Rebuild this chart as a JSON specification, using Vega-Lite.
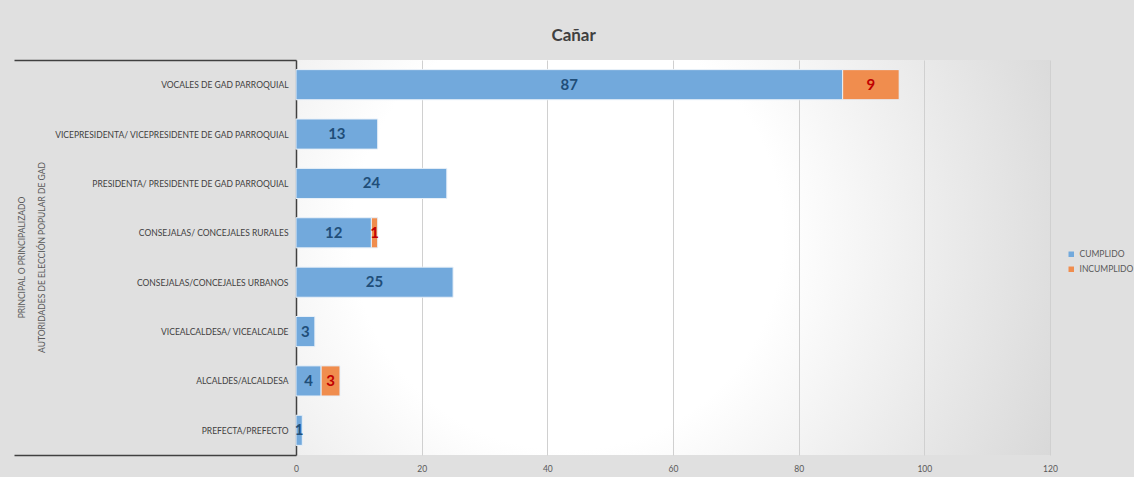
{
  "$schema": "https://vega.github.io/schema/vega-lite/v6.json",
  "width": 754,
  "height": 395,
  "padding": {"top": 27, "left": 13, "right": 0, "bottom": 6},
  "background": "#e0e0e0",
  "config": {
    "font": "Lato",
    "view": {"stroke": null, "fill": {"gradient": "radial", "x1": 0.36, "y1": 0.47, "r1": 0, "x2": 0.36, "y2": 0.47, "r2": 0.95, "stops": [{"offset": 0, "color": "#ffffff"}, {"offset": 0.3, "color": "#ffffff"}, {"offset": 1, "color": "#c2c2c2"}]}}
  },
  "title": {"text": "Cañar", "fontSize": 17, "fontWeight": "bold", "color": "#404040", "anchor": "middle", "frame": "bounds", "offset": 11, "font": "Lato"},
  "data": {
    "values": [
      {"cargo": "VOCALES DE GAD PARROQUIAL", "estado": "CUMPLIDO", "valor": 87},
      {"cargo": "VOCALES DE GAD PARROQUIAL", "estado": "INCUMPLIDO", "valor": 9},
      {"cargo": "VICEPRESIDENTA/ VICEPRESIDENTE DE GAD PARROQUIAL", "estado": "CUMPLIDO", "valor": 13},
      {"cargo": "PRESIDENTA/ PRESIDENTE DE GAD PARROQUIAL", "estado": "CUMPLIDO", "valor": 24},
      {"cargo": "CONSEJALAS/ CONCEJALES RURALES", "estado": "CUMPLIDO", "valor": 12},
      {"cargo": "CONSEJALAS/ CONCEJALES RURALES", "estado": "INCUMPLIDO", "valor": 1},
      {"cargo": "CONSEJALAS/CONCEJALES URBANOS", "estado": "CUMPLIDO", "valor": 25},
      {"cargo": "VICEALCALDESA/ VICEALCALDE", "estado": "CUMPLIDO", "valor": 3},
      {"cargo": "ALCALDES/ALCALDESA", "estado": "CUMPLIDO", "valor": 4},
      {"cargo": "ALCALDES/ALCALDESA", "estado": "INCUMPLIDO", "valor": 3},
      {"cargo": "PREFECTA/PREFECTO", "estado": "CUMPLIDO", "valor": 1}
    ]
  },
  "encoding": {
    "y": {
      "field": "cargo", "type": "nominal", "sort": null,
      "scale": {"paddingInner": 0, "paddingOuter": 0},
      "axis": {
        "title": ["PRINCIPAL O PRINCIPALIZADO", "AUTORIDADES DE ELECCIÓN POPULAR DE GAD"],
        "titleAngle": -90, "titleAlign": "center", "titleBaseline": "middle",
        "titleX": -275, "titleY": 197, "titleFontSize": 8.5, "titleFontWeight": "normal", "titleColor": "#595959", "titleLineHeight": 20,
        "labelFontSize": 8.5, "labelColor": "#404040", "labelPadding": -274, "labelLimit": 300,
        "tickBand": "extent", "tickSize": 282, "tickColor": "#404040", "tickWidth": 1.5,
        "tickOpacity": {"condition": {"test": "datum.index >= 1 || datum.index < 0 || datum.extra", "value": 1}, "value": 0},
        "domainColor": "#404040", "domainWidth": 1.5, "grid": false
      }
    },
    "x": {
      "field": "valor", "type": "quantitative", "stack": "zero",
      "scale": {"domain": [0, 120], "nice": false},
      "axis": {"title": null, "values": [0, 20, 40, 60, 80, 100, 120], "domain": false, "ticks": false, "labelFlush": false, "labelFontSize": 8.5, "labelColor": "#595959", "labelPadding": 9, "gridColor": "#d0d0d0", "gridWidth": 1}
    },
    "order": {"field": "estado", "sort": "ascending"}
  },
  "layer": [
    {
      "mark": {"type": "bar", "height": {"band": 0.61}, "stroke": "#e8f0f8", "strokeWidth": 1},
      "encoding": {
        "color": {
          "field": "estado", "type": "nominal",
          "scale": {"domain": ["CUMPLIDO", "INCUMPLIDO"], "range": ["#72a9dc", "#f08d4e"]},
          "legend": {"title": null, "orient": "none", "legendX": 771, "legendY": 190, "symbolType": "square", "symbolSize": 30, "symbolStrokeWidth": 0, "labelFontSize": 8.5, "labelColor": "#595959", "rowPadding": 6, "labelOffset": 4}
        }
      }
    },
    {
      "mark": {"type": "text", "fontSize": 15, "fontWeight": "bold", "font": "Lato"},
      "encoding": {
        "x": {"field": "valor", "type": "quantitative", "stack": "zero", "bandPosition": 0.5},
        "detail": {"field": "estado"},
        "text": {"field": "valor", "type": "quantitative"},
        "fill": {"condition": {"test": "datum.estado === 'INCUMPLIDO'", "value": "#c00000"}, "value": "#1f4e79"}
      }
    }
  ]
}
